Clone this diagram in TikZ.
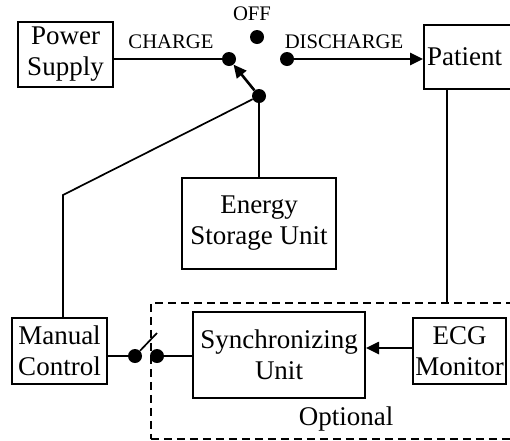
\documentclass[tikz,border=0pt]{standalone}
\usepackage{fontspec}
\setmainfont{Liberation Serif}
\usetikzlibrary{arrows.meta,calc}
\begin{document}
\begin{tikzpicture}[x=1pt,y=-1pt,
  box/.style={draw,line width=2pt,align=center,inner sep=0pt,font=\fontsize{27}{31}\selectfont},
  bigtxt/.style={font=\fontsize{27}{31}\selectfont,inner sep=0pt,anchor=base},
  lbl/.style={font=\fontsize{20.7}{24}\selectfont,inner sep=0pt,anchor=base},
  dot/.style={circle,fill,inner sep=0pt,minimum size=14pt},
  wire/.style={line width=2.6pt},
  thinwire/.style={line width=1.7pt},
  tip/.style={-{Triangle[length=13pt,width=12pt]}}
]
\useasboundingbox (0,0) rectangle (510,440);
\clip (0,0) rectangle (510,440);

% optional dashed region
\node[draw,dash pattern=on 8pt off 5pt,line width=1.6pt,minimum width=380pt,minimum height=136pt,anchor=north west,inner sep=0pt] (opt) at (150,302) {};

% boxes
\node[box,minimum width=95pt,minimum height=65pt] (power) at (65.5,54.5) {Power\\Supply};
\node[box,minimum height=64pt,anchor=north west,inner xsep=3pt,text width=94pt,align=left] (patient) at (423,24) {Patient};
\node[box,minimum width=154pt,minimum height=91pt] (energy) at (259,223.5) {Energy\\Storage Unit};
\node[box,minimum width=95pt,minimum height=66pt] (manual) at (59.5,351) {Manual\\Control};
\node[box,minimum width=172pt,minimum height=86pt] (sync) at (279,355) {Synchronizing\\Unit};
\node[box,minimum width=93pt,minimum height=66pt] (ecg) at (459.5,351) {ECG\\Monitor};

% labels
\node[lbl] (offl) at (252,20) {OFF};
\node[lbl] (chl) at (171,48) {CHARGE};
\node[lbl] (disl) at (344,48) {DISCHARGE};
\node[bigtxt] (optl) at (346,425) {Optional};

% switch contacts
\node[dot] (charge) at (229,59) {};
\node[dot] (off) at (257,37) {};
\node[dot] (dis) at (287,59) {};
\node[dot] (pivot) at (259,96) {};
\node[dot] (sw1) at (135,356) {};
\node[dot] (sw2) at (157,356) {};
\coordinate (blade) at (157,333);
\coordinate (bend) at (63,195);
\coordinate (ptap) at (447,88);

% connectors
\draw[wire] (power.east |- charge) -- (charge);
\draw[wire,tip] (dis) -- (dis -| patient.west);
\draw[wire,tip] (pivot) -- (charge);
\draw[wire] (pivot) -- (energy.north);
\draw[thinwire] (pivot) -- (bend) -- (bend |- manual.north);
\draw[thinwire] (ptap) -- (ptap |- opt.north);
\draw[wire,tip] ([yshift=3pt]ecg.west) -- ([yshift=3pt]ecg.west -| sync.east);
\draw[wire] (manual.east |- sw1) -- (sw1);
\draw[wire] (sw2) -- (sw2 -| sync.west);
\draw[thinwire] (sw1) -- (blade);
\end{tikzpicture}
\end{document}
